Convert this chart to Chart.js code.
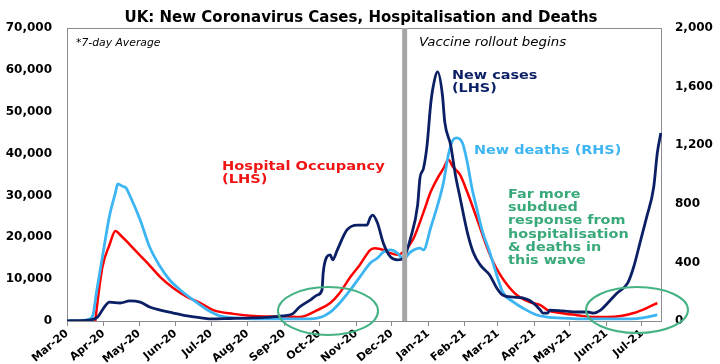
<!DOCTYPE html>
<html><head><meta charset="utf-8">
<script src="https://cdn.jsdelivr.net/npm/chart.js@4.4.1/dist/chart.umd.min.js"></script>
<style>html,body{margin:0;padding:0;background:#fff}#wrap{width:720px;height:364px;position:relative}</style>
</head><body><div id="wrap"><canvas id="c" width="720" height="364"></canvas></div>
<script>
// Day offsets counted from 1 March 2020
const monthDays   = [0,31,61,92,122,153,184,214,245,275,306,337,365,396,426,457,487];
const monthLabels = ['Mar-20','Apr-20','May-20','Jun-20','Jul-20','Aug-20','Sep-20','Oct-20','Nov-20','Dec-20','Jan-21','Feb-21','Mar-21','Apr-21','May-21','Jun-21','Jul-21'];
const vaccineDay = 286;

// New cases (LHS)
const caseDays = [0,19,26,31,36,45,53,62,70,79,90,102,115,122,138,153,168,183,191,197,206,212,216,217,220,223,225,229,237,246,254,257,259,263,268,274,280,285,291,297,299,302,305,308,310,314,318,320,325,329,333,339,344,350,358,364,369,378,386,395,401,403,407,409,420,432,441,446,452,458,466,475,480,486,491,497,500,503];
const caseVals = [50,200,950,3100,4500,4300,4800,4500,3350,2600,1900,1200,700,500,600,700,850,1200,1700,3350,5000,6200,7400,11500,15300,15800,14600,17000,21700,22900,22900,24800,25300,23400,18600,15300,14600,15000,19800,27700,34200,36500,42000,51600,55700,59500,54000,47500,42000,34900,29400,21300,16500,13400,11000,7900,6200,5700,5500,4300,2600,1900,1900,2600,2400,2150,2150,1900,2600,4300,6700,9100,12900,19400,24800,32000,40100,44900];

// Hospital occupancy (LHS)
const hospDays = [24,25,30,36,41,46,51,59,68,79,90,102,113,124,141,158,172,183,197,212,223,231,240,248,257,261,268,274,280,285,293,302,308,314,319,323,327,333,339,344,350,356,361,367,373,381,392,401,407,418,432,446,458,469,480,491,500];
const hospVals = [0,2600,12900,18200,21500,20300,18900,16500,13900,10500,7900,5700,4300,2600,1700,1200,1100,1100,950,2600,4300,6700,10500,13400,17000,17400,17000,16200,15800,16500,19400,26000,30800,34200,36500,38500,36800,34900,30800,27000,22200,17400,14100,11000,8600,6200,4500,3800,2600,1900,1400,950,950,1200,1900,3100,4300];

// New deaths (RHS)
const deathDays = [0,11,19,22,25,30,36,41,43,47,50,53,62,70,79,87,96,107,119,130,147,164,183,197,212,223,231,240,248,257,263,268,274,280,285,291,299,302,308,314,319,323,327,330,335,339,343,347,352,358,364,369,378,386,398,407,418,435,469,486,500];
const deathVals = [0,3,14,41,198,437,717,874,935,920,908,860,690,505,370,280,212,143,75,34,20,14,14,14,20,61,123,212,300,396,430,471,485,464,423,471,498,485,635,792,949,1133,1236,1250,1215,1085,908,771,608,471,314,198,130,89,41,27,20,14,14,20,41];

const leftMax = 70000, leftStep = 10000, rightMax = 2000, rightStep = 400;

const pts = (d, v) => d.map((x, i) => ({x: x, y: v[i]}));

const NAVY = '#0b1f65', RED = '#ff0000', LBLUE = '#3db5f2', GREEN = '#3aa97a';
Chart.defaults.font.family = 'DejaVu Sans';
Chart.defaults.color = '#000';

const notes = [
  {lines:['*7-day Average'], x:76, y:[46], color:'#000', font:'italic 10px DejaVu Sans', sx:1.08},
  {lines:['Vaccine rollout begins'], x:419, y:[46], color:'#000', font:'italic 11.5px DejaVu Sans', sx:1.16},
  {lines:['New cases','(LHS)'], x:452, y:[79,92], color:NAVY, font:'bold 12px DejaVu Sans', sx:1.2},
  {lines:['New deaths (RHS)'], x:474, y:[153.5], color:LBLUE, font:'bold 12px DejaVu Sans', sx:1.2},
  {lines:['Hospital Occupancy','(LHS)'], x:222, y:[170,182.5], color:'#f01414', font:'bold 12px DejaVu Sans', sx:1.22},
  {lines:['Far more','subdued','response from','hospitalisation','& deaths in','this wave'], x:508, y:[198,211.2,224.4,237.6,250.8,264], color:GREEN, font:'bold 12px DejaVu Sans', sx:1.2}
];
const ellipses = [
  {cx:328, cy:311, rx:50, ry:24},
  {cx:637, cy:310, rx:51, ry:23}
];

const deco = {
  id:'deco',
  beforeDraw(chart){
    const c = chart.ctx;
    c.save();
    c.fillStyle = '#fff';
    c.fillRect(0,0,chart.width,chart.height);
    c.restore();
  },
  beforeDatasetsDraw(chart){
    const c = chart.ctx, a = chart.chartArea;
    c.save();
    c.strokeStyle = '#8c8c8c';
    c.lineWidth = 1;
    c.strokeRect(Math.round(a.left)+0.5, Math.round(a.top)+0.5, Math.round(a.right-a.left)-1, Math.round(a.bottom-a.top));
    c.restore();
  },
  afterDatasetsDraw(chart){
    const c = chart.ctx, a = chart.chartArea, xs = chart.scales.x;
    c.save();
    // vaccine rollout marker
    const vx = xs.getPixelForValue(vaccineDay);
    c.fillStyle = '#a6a6a6';
    c.fillRect(vx-2.5, a.top, 5, a.bottom-a.top);
    // ellipses
    c.strokeStyle = '#45b283';
    c.lineWidth = 2;
    ellipses.forEach(e => { c.beginPath(); c.ellipse(e.cx, e.cy, e.rx, e.ry, 0, 0, Math.PI*2); c.stroke(); });
    // notes
    c.textBaseline = 'alphabetic';
    c.textAlign = 'left';
    notes.forEach(n => {
      c.font = n.font; c.fillStyle = n.color;
      n.lines.forEach((t, i) => {
        c.save(); c.translate(n.x, n.y[i]); c.scale(n.sx, 1); c.fillText(t, 0, 0); c.restore();
      });
    });
    // title
    c.font = 'bold 15px DejaVu Sans';
    c.fillStyle = '#000';
    c.textAlign = 'center';
    c.fillText('UK: New Coronavirus Cases, Hospitalisation and Deaths', 361, 21.5);
    c.restore();
  }
};

new Chart(document.getElementById('c'), {
  type:'line',
  data:{datasets:[
    {label:'New cases (LHS)', data:pts(caseDays, caseVals), yAxisID:'y', borderColor:NAVY, borderWidth:2.8, pointRadius:0, cubicInterpolationMode:'monotone', order:0},
    {label:'New deaths (RHS)', data:pts(deathDays, deathVals), yAxisID:'y1', borderColor:LBLUE, borderWidth:2.8, pointRadius:0, cubicInterpolationMode:'monotone', order:1},
    {label:'Hospital Occupancy (LHS)', data:pts(hospDays, hospVals), yAxisID:'y', borderColor:RED, borderWidth:2.5, pointRadius:0, cubicInterpolationMode:'monotone', order:2}
  ]},
  options:{
    responsive:false, animation:false, devicePixelRatio:1,
    layout:{padding:{top:28,left:0,right:0,bottom:0}},
    plugins:{legend:{display:false}, tooltip:{enabled:false}},
    scales:{
      x:{type:'linear', min:0, max:504,
        afterBuildTicks:s => { s.ticks = monthDays.map(v => ({value:v})); },
        afterFit:s => { s.height = 43; },
        ticks:{autoSkip:false, minRotation:40, maxRotation:40, padding:1,
          font:{size:11, weight:'bold'}, color:'#000',
          callback:v => monthLabels[monthDays.indexOf(v)]},
        grid:{display:true, drawOnChartArea:false, drawTicks:true, tickLength:5, color:'#8c8c8c'},
        border:{display:false}
      },
      y:{position:'left', min:0, max:leftMax,
        afterBuildTicks:s => { const t=[]; for(let v=0; v<=leftMax; v+=leftStep) t.push({value:v}); s.ticks=t; },
        afterFit:s => { s.width = 67; },
        ticks:{padding:15, font:{size:12, weight:'bold'}, color:'#000', callback:v => v.toLocaleString('en-US')},
        grid:{display:false, drawTicks:false}, border:{display:false}
      },
      y1:{position:'right', min:0, max:rightMax,
        afterBuildTicks:s => { const t=[]; for(let v=0; v<=rightMax; v+=rightStep) t.push({value:v}); s.ticks=t; },
        afterFit:s => { s.width = 58; },
        ticks:{padding:13, font:{size:12, weight:'bold'}, color:'#000', callback:v => v.toLocaleString('en-US')},
        grid:{display:false, drawTicks:false}, border:{display:false}
      }
    }
  },
  plugins:[deco]
});
</script>
</body></html>
